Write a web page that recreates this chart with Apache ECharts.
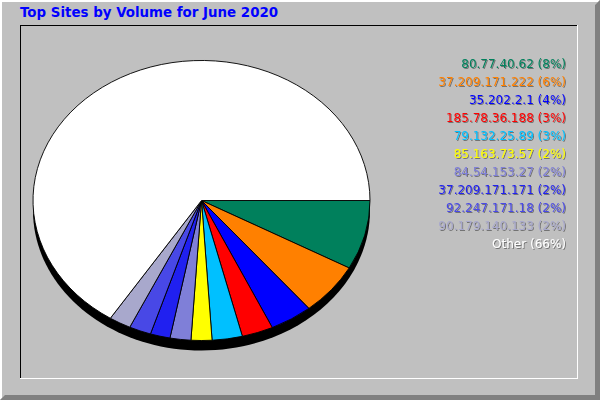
<!DOCTYPE html>
<html><head><meta charset="utf-8">
<script src="https://cdn.jsdelivr.net/npm/echarts@6/dist/echarts.min.js"></script>
<style>html,body{margin:0;padding:0;background:#c0c0c0}#c{width:600px;height:400px}</style>
</head><body><div id="c"></div>
<script>
// ---- data ----
const chartTitle = 'Top Sites by Volume for June 2020';
const sites = ['80.77.40.62','37.209.171.222','35.202.2.1','185.78.36.188','79.132.25.89',
  '85.163.73.57','84.54.153.27','37.209.171.171','92.247.171.18','90.179.140.133','Other'];
const shares = [8.0, 6.0, 4.1, 3.0, 2.9, 2.0, 2.0, 1.9, 2.1, 2.1, 65.9];

// ---- styles ----
const sliceColors = ['#00805c','#ff8000','#0000ff','#ff0000','#00c0ff','#ffff00',
  '#7f7fd8','#2020f0','#4848e6','#a8a8cc','#ffffff'];
const CX = 201.5, CY = 200.5, RX = 168.5, RY = 140, DEPTH = 10;

const total = shares.reduce((a,b)=>a+b,0);
const startFrac = [];
shares.reduce((acc,v,i)=>{ startFrac[i] = acc/total; return acc+v; },0);

const chart = echarts.init(document.getElementById('c'), null, {renderer:'svg'});

const graphics = [
  {type:'polygon', z:0, shape:{points:[[0,0],[600,0],[598,2],[2,2],[2,398],[0,400]]}, style:{fill:'#ffffff'}},
  {type:'polygon', z:0, shape:{points:[[600,0],[600,400],[0,400],[5,395],[595,395],[595,5]]}, style:{fill:'#808080'}},
  {type:'line', z:0, shape:{x1:20,y1:25.5,x2:578,y2:25.5}, style:{stroke:'#000',lineWidth:1}},
  {type:'line', z:0, shape:{x1:20.5,y1:25,x2:20.5,y2:379}, style:{stroke:'#000',lineWidth:1}},
  {type:'line', z:0, shape:{x1:20,y1:378.5,x2:578,y2:378.5}, style:{stroke:'#fff',lineWidth:1}},
  {type:'line', z:0, shape:{x1:577.5,y1:25,x2:577.5,y2:379}, style:{stroke:'#fff',lineWidth:1}},
  {type:'ellipse', z:1, shape:{cx:CX, cy:CY+DEPTH, rx:RX, ry:RY}, style:{fill:'#000'}}
];
sites.forEach((s,i)=>{
  graphics.push({type:'text', z:10, x:566, y:63.5 + 18.07*i,
    style:{text: s + ' (' + Math.round(shares[i]/total*100) + '%)', fill: sliceColors[i],
      font:'12px "DejaVu Sans"', textAlign:'right', verticalAlign:'middle',
      shadowColor:'rgba(0,0,0,0.4)', shadowOffsetX:1, shadowOffsetY:1, shadowBlur:0.01,
      textShadowColor:'rgba(0,0,0,0.4)', textShadowOffsetX:1, textShadowOffsetY:1, textShadowBlur:0.01}});
});

chart.setOption({
  backgroundColor:'#c0c0c0',
  animation:false,
  title:{text: chartTitle, left:20, top:6, padding:0,
    textStyle:{color:'#0000ff', fontSize:13.4, fontWeight:'bold', fontFamily:'DejaVu Sans'}},
  graphic: graphics,
  series:[{
    type:'custom', coordinateSystem:'none', z:5,
    data: shares.map((v,i)=>({name: sites[i], value:[v]})),
    renderItem: function(params, api){
      const i = params.dataIndex;
      const a0 = startFrac[i]*2*Math.PI;
      const a1 = a0 + api.value(0)/total*2*Math.PI;
      return {type:'group', x:CX, y:CY, scaleY: RY/RX, children:[
        {type:'sector', shape:{cx:0, cy:0, r:RX, r0:0, startAngle:a0, endAngle:a1, clockwise:true},
         style:{fill: sliceColors[i], stroke:'#000', lineWidth:1, strokeNoScale:true}}
      ]};
    }
  }]
});
</script></body></html>
